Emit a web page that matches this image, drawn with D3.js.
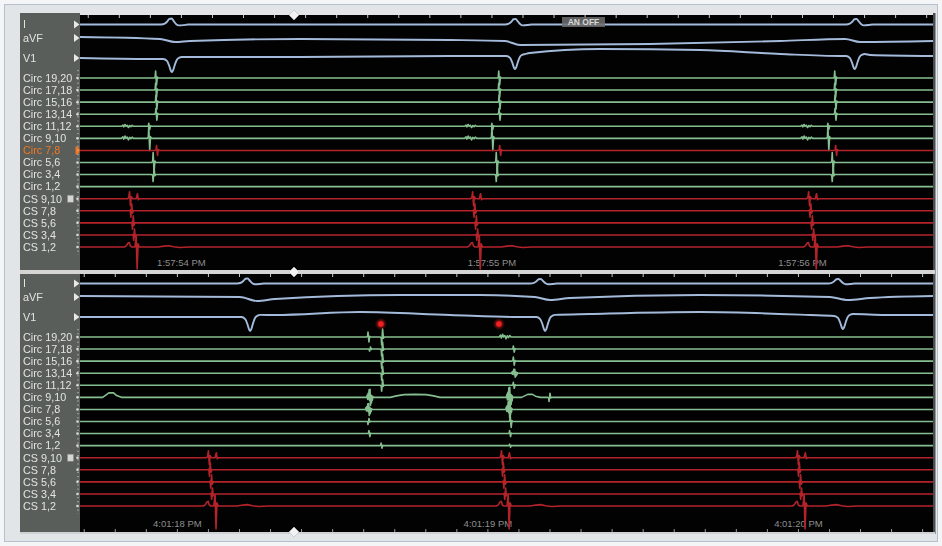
<!DOCTYPE html>
<html><head><meta charset="utf-8">
<script src="https://cdnjs.cloudflare.com/ajax/libs/d3/7.8.5/d3.min.js"></script>
<style>html,body{margin:0;padding:0;background:#f3f5f7;}svg{display:block;}</style>
</head><body><svg id="c" width="942" height="546"></svg>
<script>
// ================= DATA =================
const surfaceChannels = ["I", "aVF", "V1"];
const circChannels = ["Circ 19,20","Circ 17,18","Circ 15,16","Circ 13,14","Circ 11,12","Circ 9,10","Circ 7,8","Circ 5,6","Circ 3,4","Circ 1,2"];
const csChannels = ["CS 9,10","CS 7,8","CS 5,6","CS 3,4","CS 1,2"];

const topTimeDomain = [53.675, 56.422];      // seconds past 1:57
const bottomTimeDomain = [17.688, 20.435];   // seconds past 4:01
const topTickTimes = [54, 55, 56];
const topTickLabels = ["1:57:54 PM", "1:57:55 PM", "1:57:56 PM"];
const bottomTickTimes = [18, 19, 20];
const bottomTickLabels = ["4:01:18 PM", "4:01:19 PM", "4:01:20 PM"];

// deflection templates: [ms, normalised amplitude]
const tplSpike = [[-6,0],[-3,0.12],[-1.5,1],[1.5,-1],[4,0.15],[7,0]];
const tplCsDist = [[-8,0],[-4,0.15],[-1.5,1],[1.5,-1],[4,0.3],[8,0],[20,0],[24,0.7],[27,-0.15],[31,0]];
const tplCsMid = [[-6,0],[-3,0.1],[-1,-0.9],[1.5,1],[4,-0.35],[7,0]];
const tplCsProx = [[-18,0],[-12,0.05],[-6,0.18],[-2,0.2],[1,0.05],[6,0],[16,0],[20,0.5],[23,-1],[26,0.14],[30,0],[90,0],[110,0.04],[125,0.06],[140,0.01],[160,-0.02],[190,0]];
const tplWig = [[-22,0],[-18,0.6],[-15,-0.3],[-11,0.9],[-8,0],[-4,0.5],[0,-0.6],[4,0.4],[8,-0.2],[12,0.5],[16,0],[22,0]];
const tplFrac = [[-11,0],[-9,0.3],[-7.5,-0.25],[-6,0.5],[-4.5,-0.2],[-3,0.95],[-1.5,-0.4],[0,1],[1.5,-1],[3,0.3],[4.5,-0.7],[6,0.2],[7.5,-0.35],[9,0.1],[11,0]];
const tplBump = [[-30,0],[-20,0.5],[-10,1],[5,1],[15,0.4],[30,0]];
const tplHump = [[-80,0],[-60,0.5],[-35,0.9],[0,1],[35,0.9],[60,0.5],[80,0]];
const tplQrsI = [[-32,0],[-20,0.15],[-12,0.5],[-5,0.95],[2,1],[9,0.55],[17,0.05],[25,-0.15],[40,-0.1],[55,0]];
const tplQrsV1 = [[-28,0],[-16,-0.15],[-9,-0.5],[-3,-0.92],[0,-1],[4,-0.85],[10,-0.4],[16,-0.05],[24,0.1],[32,0.15]];
const templates = {spike:tplSpike, csDist:tplCsDist, csMid:tplCsMid, csProx:tplCsProx, wig:tplWig, frac:tplFrac, bump:tplBump, hump:tplHump, qrsI:tplQrsI, qrsV1:tplQrsV1};

// atrial beats (CS 9,10 activation), seconds
const topBeats = [53.836, 54.941, 56.023];
const bottomBeats = [18.103, 19.047, 20.000];
// activation sequence relative to beat: [channel, template, lag ms, gain px]
const topLags = [
  ["CS 9,10","csDist",0,7],["CS 7,8","csMid",4,7],["CS 5,6","csMid",9,7],["CS 3,4","csMid",13,6],["CS 1,2","csProx",0,22],
  ["Circ 19,20","spike",84,7],["Circ 17,18","spike",84,7],["Circ 15,16","spike",85,7],["Circ 13,14","spike",85,6],
  ["Circ 11,12","wig",-5,2],["Circ 11,12","spike",62,3],
  ["Circ 9,10","wig",-5,2.5],["Circ 9,10","spike",62,12],
  ["Circ 7,8","spike",87,5],["Circ 5,6","spike",76,10],["Circ 3,4","spike",76,-7]
];
const bottomLags = [
  ["CS 9,10","csDist",0,7],["CS 7,8","csMid",3,7],["CS 5,6","csMid",7,7],["CS 3,4","csMid",10,6],["CS 1,2","csProx",0,23]
];
// isolated circular-catheter potentials, bottom strip: [channel, time s, template, gain px]
const bottomCircEvents = [
  ["Circ 19,20",18.617,"spike",5],["Circ 19,20",18.661,"spike",-8],
  ["Circ 17,18",18.622,"spike",-2],["Circ 17,18",18.661,"spike",-7],
  ["Circ 15,16",18.661,"spike",-7],["Circ 13,14",18.661,"spike",-7],["Circ 11,12",18.661,"spike",-6],
  ["Circ 9,10",17.791,"bump",4.5],["Circ 9,10",18.622,"frac",8],["Circ 9,10",18.767,"hump",3],
  ["Circ 7,8",18.618,"frac",6],["Circ 5,6",18.617,"spike",-3],["Circ 3,4",18.620,"spike",3],["Circ 1,2",18.659,"spike",2.5],
  ["Circ 19,20",19.060,"wig",3],["Circ 17,18",19.085,"spike",3],["Circ 15,16",19.085,"spike",4],
  ["Circ 13,14",19.088,"frac",4],["Circ 11,12",19.085,"spike",3],
  ["Circ 9,10",19.072,"frac",10],["Circ 9,10",19.140,"bump",3],["Circ 9,10",19.200,"spike",-4],
  ["Circ 7,8",19.070,"frac",8],["Circ 5,6",19.075,"spike",6],["Circ 3,4",19.073,"spike",3],["Circ 1,2",19.073,"spike",1.5]
];
const bottomStarTimes = [18.657, 19.037];

// surface ECG: slow baseline points [t, px] and QRS events [t, template, base px, gain px]
const topIDrift = [[53.675,0],[56.422,0]];
const topIQrs = [[53.968,"qrsI",0,6],[55.076,"qrsI",0,5.5],[56.174,"qrsI",0,5.5]];
const topAvfDrift = [[53.675,1],[53.933,-1],[53.981,-4],[54.029,-3],[54.384,-1],[54.867,-2],[55.044,-3],[55.092,-7],[55.511,-6],[55.930,-3],[56.139,-1],[56.187,-4],[56.422,-3]];
const topV1Drift = [[53.675,0],[53.900,-1],[54.029,1],[54.384,1],[54.867,2],[55.028,2],[55.124,5],[55.350,9],[55.672,8],[55.930,4],[56.123,2],[56.219,3],[56.422,2]];
const topV1Qrs = [[53.971,"qrsV1",-1,13],[55.076,"qrsV1",2,13],[56.170,"qrsV1",2,13]];
const bottomIDrift = [[17.688,0],[20.435,0]];
const bottomIQrs = [[18.226,"qrsI",0,5],[19.170,"qrsI",0,4.5],[20.129,"qrsI",0,4.5]];
const bottomAvfDrift = [[17.688,1],[18.203,0],[18.258,-4],[18.316,-2],[18.719,2],[18.976,2],[19.153,0],[19.202,-3],[19.266,-1],[19.685,2],[20.103,0],[20.161,-3],[20.232,-1],[20.435,1]];
const bottomV1Drift = [[17.688,0],[18.171,0],[18.316,2],[18.590,5],[18.880,2],[19.105,0],[19.330,3],[19.685,5],[20.039,2],[20.281,2],[20.435,2]];
const bottomV1Qrs = [[18.236,"qrsV1",0,14],[19.186,"qrsV1",0,14],[20.145,"qrsV1",1,13]];

// ================= RENDER =================
const svg = d3.select("#c");
const FONT = "'Liberation Sans', Arial, sans-serif";
const defs = svg.append("defs");
defs.append("filter").attr("id","soft").append("feGaussianBlur").attr("stdDeviation",0.4);
defs.append("filter").attr("id","glow").append("feGaussianBlur").attr("stdDeviation",0.8);

svg.append("rect").attr("width",942).attr("height",546).attr("fill","#f3f5f7");
svg.append("rect").attr("x",4.5).attr("y",4.5).attr("width",933).attr("height",537)
  .attr("fill","#e2e5e8").attr("stroke","#b5c0cc");
svg.append("rect").attr("x",20).attr("y",13).attr("width",60).attr("height",521).attr("fill","#595e5b");
svg.append("rect").attr("x",933).attr("y",13).attr("width",2.5).attr("height",521).attr("fill","#4a4d4c");

const X0 = 80, X1 = 933;
const panels = [
  {top:15, bottom:270, domain:topTimeDomain, tickT:topTickTimes, tickL:topTickLabels, labelY:266, idx:0},
  {top:274, bottom:532, domain:bottomTimeDomain, tickT:bottomTickTimes, tickL:bottomTickLabels, labelY:527, idx:1}
];

const colBlue = "#a3badb", colGreen = "#86bf8f", colRed = "#b4222b", colOrange = "#f2771f";

function expand(events) {
  // events: [time, templateName, base, gain]
  return events.flatMap(([t, name, base, gain]) =>
    templates[name].map(([ms, a]) => [t + ms / 1000, base + gain * a]));
}

panels.forEach(p => {
  const x = d3.scaleLinear().domain(p.domain).range([X0, X1]);
  const g = svg.append("g");
  g.append("rect").attr("x",X0).attr("y",p.top).attr("width",X1-X0).attr("height",p.bottom-p.top).attr("fill","#020202");
  const clipId = "clip"+p.idx;
  defs.append("clipPath").attr("id",clipId).append("rect")
    .attr("x",X0).attr("y",p.top).attr("width",X1-X0).attr("height",p.bottom-p.top);

  const intra = circChannels.concat(csChannels);
  const rowIntra = d3.scalePoint().domain(intra).range([p.top+63, p.top+232]);
  const rowSurf = d3.scaleOrdinal().domain(surfaceChannels).range([p.top+9.5, p.top+23, p.top+43]);
  const rowY = ch => surfaceChannels.includes(ch) ? rowSurf(ch) : rowIntra(ch);

  // 100 ms ticks
  const fine = d3.range(Math.ceil(p.domain[0]*10), Math.floor(p.domain[1]*10)+1).map(v => v/10);
  const ta = g.append("g").attr("transform",`translate(0,${p.top})`)
    .call(d3.axisBottom(x).tickValues(fine).tickFormat("").tickSize(3));
  ta.select(".domain").remove();
  ta.selectAll("line").attr("stroke","#c9c9c9").attr("stroke-width",1);
  if (p.idx === 1) {
    const tb = g.append("g").attr("transform",`translate(0,${p.bottom})`)
      .call(d3.axisTop(x).tickValues(fine).tickFormat("").tickSize(3));
    tb.select(".domain").remove();
    tb.selectAll("line").attr("stroke","#9a9a9a");
  }

  // time labels
  const la = g.append("g").attr("transform",`translate(0,${p.labelY})`)
    .call(d3.axisBottom(x).tickValues(p.tickT).tickFormat((d,i) => p.tickL[i]).tickSize(0));
  la.select(".domain").remove();
  la.selectAll("text").attr("y",0).attr("dy",0).attr("fill","#8e8e8e")
    .attr("font-family",FONT).attr("font-size","9.5px");

  // traces
  const traces = [];
  const beats = p.idx === 0 ? topBeats : bottomBeats;
  const lags = p.idx === 0 ? topLags : bottomLags;
  intra.forEach(ch => {
    let ev = [];
    lags.filter(l => l[0] === ch).forEach(([c, name, lag, gain]) =>
      beats.forEach(b => ev.push([b + lag/1000, name, 0, gain])));
    if (p.idx === 1) bottomCircEvents.filter(e => e[0] === ch).forEach(([c,t,name,gain]) => ev.push([t,name,0,gain]));
    const pts = [[p.domain[0],0],[p.domain[1],0]].concat(expand(ev)).sort((a,b)=>a[0]-b[0]);
    let color = ch.startsWith("CS") ? colRed : colGreen;
    if (p.idx === 0 && ch === "Circ 7,8") color = colRed;
    traces.push({ch, pts, color, curve:d3.curveLinear});
  });
  const surf = p.idx === 0
    ? [["I",topIDrift,topIQrs],["aVF",topAvfDrift,[]],["V1",topV1Drift,topV1Qrs]]
    : [["I",bottomIDrift,bottomIQrs],["aVF",bottomAvfDrift,[]],["V1",bottomV1Drift,bottomV1Qrs]];
  surf.forEach(([ch, drift, qrs]) => {
    const pts = drift.concat(expand(qrs)).sort((a,b)=>a[0]-b[0]);
    traces.push({ch, pts, color:colBlue, curve:d3.curveMonotoneX});
  });

  const tg = g.append("g").attr("clip-path",`url(#${clipId})`).attr("filter","url(#soft)");
  traces.forEach(tr => {
    const y = d3.scaleLinear().domain([-40,40]).range([rowY(tr.ch)+40, rowY(tr.ch)-40]);
    const line = d3.line().x(d => x(d[0])).y(d => y(d[1])).curve(tr.curve);
    tg.append("path").attr("d", line(tr.pts)).attr("fill","none")
      .attr("stroke", tr.color).attr("stroke-width", tr.color === colBlue ? 1.9 : 1.6)
      .attr("stroke-linejoin","round");
  });

  // stars
  if (p.idx === 1) {
    const sy = rowY("Circ 19,20") - 13;
    bottomStarTimes.forEach(t => {
      g.append("circle").attr("cx",x(t)).attr("cy",sy).attr("r",4.5).attr("fill","#ff2020").attr("opacity",0.5).attr("filter","url(#glow)");
      g.append("circle").attr("cx",x(t)).attr("cy",sy).attr("r",2.8).attr("fill","#f02020");
    });
  }

  // labels
  const lg = svg.append("g").attr("font-family",FONT).attr("font-size","10.8px").attr("filter","url(#soft)");
  surfaceChannels.concat(intra).forEach(ch => {
    const orange = p.idx === 0 && ch === "Circ 7,8";
    lg.append("text").attr("x",23).attr("y",rowY(ch)+3.8).text(ch)
      .attr("fill", orange ? colOrange : "#e2e4e2");
    if (surfaceChannels.includes(ch)) {
      lg.append("path").attr("d",`M74,${rowY(ch)-4}L79.5,${rowY(ch)}L74,${rowY(ch)+4}Z`).attr("fill","#e8e8e8");
    } else if (orange) {
      lg.append("path").attr("d",`M75.5,${rowY(ch)-4}A4,4 0 0 1 75.5,${rowY(ch)+4}Z`).attr("fill",colOrange);
    } else {
      lg.append("circle").attr("cx",77.5).attr("cy",rowY(ch)).attr("r",1.3).attr("fill","#d8d8d8");
    }
  });
  const by = rowY("CS 9,10");
  lg.append("rect").attr("x",67.5).attr("y",by-3.5).attr("width",6).attr("height",7).attr("fill","#d6d6d6").attr("stroke","#8a8a8a").attr("stroke-width",0.6);
  lg.append("line").attr("x1",78).attr("x2",78).attr("y1",rowY("Circ 19,20")-8).attr("y2",rowY("CS 1,2")+8)
    .attr("stroke","#cfcfcf").attr("stroke-dasharray","1.2,3").attr("stroke-width",1);
});

// separator band between panels and bottom edge
svg.append("rect").attr("x",20).attr("y",270).attr("width",915).attr("height",4).attr("fill","#d5d5d5");
svg.append("rect").attr("x",20).attr("y",532).attr("width",915).attr("height",2).attr("fill","#cfd2d4");

// position diamonds
const dx = 294;
[15, 272, 532].forEach(yy => {
  svg.append("path").attr("d",`M${dx},${yy-5}L${dx+5},${yy}L${dx},${yy+5}L${dx-5},${yy}Z`)
    .attr("fill","#f2f2f2").attr("stroke","#bdbdbd").attr("stroke-width",0.6);
});

// "AN OFF" tag
svg.append("rect").attr("x",562).attr("y",17).attr("width",43).attr("height",10).attr("fill","#6e6e6e").attr("opacity",0.85);
svg.append("text").attr("x",583.5).attr("y",25.3).attr("text-anchor","middle").attr("font-family",FONT)
  .attr("font-size","8.5px").attr("font-weight","bold").attr("fill","#d8d8d8").text("AN OFF");
</script></body></html>
